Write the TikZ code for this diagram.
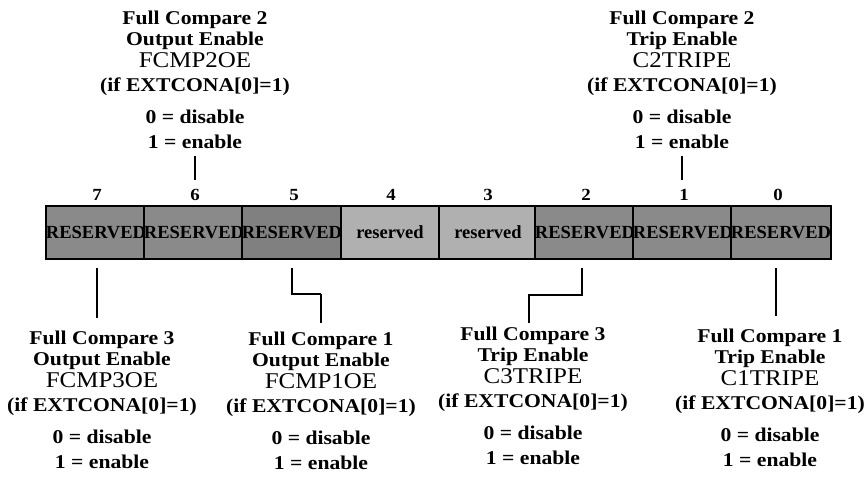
\documentclass[tikz,border=0pt]{standalone}
\usepackage{fontspec}
\setmainfont{Liberation Serif}[FakeStretch=1.11]
\newfontfamily\cellfont{Liberation Serif}
\usetikzlibrary{calc}

\definecolor{cellDark}{gray}{0.54}
\definecolor{cellDarker}{gray}{0.50}
\definecolor{cellLight}{gray}{0.69}

% one field description: title, subtitle, register bit name
\newcommand{\fieldtext}[3]{%
  Full Compare #1\\
  #2\\
  {\mdseries\fontsize{22.5}{21.5}\selectfont #3}\\[3pt]
  (if EXTCONA[0]=1)\\[10pt]
  0 = disable\\[4pt]
  1 = enable}

\tikzset{
  every node/.style={inner sep=0pt, outer sep=0pt},
  regcell/.style={draw=black, line width=1.3pt, minimum width=98pt,
    minimum height=53pt, text height=12.5pt, text depth=0pt,
    font=\cellfont\bfseries\fontsize{18.5}{20}\selectfont},
  rsvhi/.style={regcell, fill=cellDark},
  rsvhidark/.style={regcell, fill=cellDarker},
  rsvlo/.style={regcell, fill=cellLight},
  bitnum/.style={anchor=base, font=\bfseries\fontsize{17}{18}\selectfont},
  fieldblock/.style={anchor=north, align=center,
    font=\bfseries\fontsize{19.5}{21.5}\selectfont},
  lead/.style={line width=1.3pt},
}

\begin{document}
\begin{tikzpicture}[x=1pt, y=-1pt]
\useasboundingbox (0,0) rectangle (867,479);

% register cells, bit 7 on the left
\node[rsvhi]     (c7) at (96,232.5)  {RESERVED};
\node[rsvhi]     (c6) at (194,232.5) {RESERVED};
\node[rsvhidark] (c5) at (292,232.5) {RESERVED};
\node[rsvlo]     (c4) at (390,232.5) {reserved};
\node[rsvlo]     (c3) at (488,232.5) {reserved};
\node[rsvhi]     (c2) at (585,232.5) {RESERVED};
\node[rsvhi]     (c1) at (683,232.5) {RESERVED};
\node[rsvhi]     (c0) at (781,232.5) {RESERVED};

% bit numbers
\node[bitnum] (n7) at (97,200)  {7};
\node[bitnum] (n6) at (195,200) {6};
\node[bitnum] (n5) at (294,200) {5};
\node[bitnum] (n4) at (391,200) {4};
\node[bitnum] (n3) at (488,200) {3};
\node[bitnum] (n2) at (586,200) {2};
\node[bitnum] (n1) at (684,200) {1};
\node[bitnum] (n0) at (778,200) {0};

% field descriptions above the register
\node[fieldblock] (b6) at (195,10.5) {\fieldtext{2}{Output Enable}{FCMP2OE}};
\node[fieldblock] (b1) at (682,10.5) {\fieldtext{2}{Trip Enable}{C2TRIPE}};

% field descriptions below the register
\node[fieldblock] (b7) at (102,330.5) {\fieldtext{3}{Output Enable}{FCMP3OE}};
\node[fieldblock] (b5) at (321,331.5) {\fieldtext{1}{Output Enable}{FCMP1OE}};
\node[fieldblock] (b2) at (533,326.5) {\fieldtext{3}{Trip Enable}{C3TRIPE}};
\node[fieldblock] (b0) at (770,328.5) {\fieldtext{1}{Trip Enable}{C1TRIPE}};

% ticks from the upper descriptions to their bit numbers
\draw[lead, shorten <=7pt, shorten >=9pt] (b6.south) -- (b6.south |- n6.north);
\draw[lead, shorten <=7pt, shorten >=9pt] (b1.south) -- (b1.south |- n1.north);

% leaders from the cells to the lower descriptions
\coordinate (a7) at ($(c7.south)+(1,9)$);
\coordinate (a5) at ($(c5.south)+(0,9)$);
\coordinate (a2) at ($(c2.south)+(-3,9)$);
\coordinate (a0) at ($(c0.south)+(-5,9)$);

\draw[lead, shorten >=13pt] (a7) -- (a7 |- b7.north);
\draw[lead] (a5) -- ++(0,26) coordinate (k5) -- (k5 -| b5.north);
\draw[line width=2.6pt] (k5 -| b5.north) -- ($(b5.north)+(0,-9)$);
\draw[lead] (a2) -- ++(0,27) -| ($(b2.north)+(-4,-4)$);
\draw[lead, shorten >=13pt] (a0) -- (a0 |- b0.north);
\end{tikzpicture}
\end{document}
